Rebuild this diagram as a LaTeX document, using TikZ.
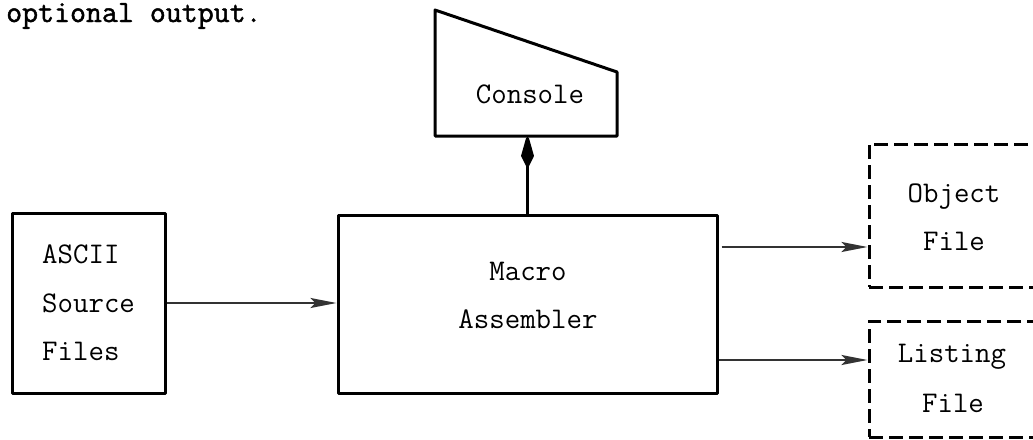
\documentclass[tikz,border=0pt]{standalone}
\usepackage{fontspec}
\setmonofont{Latin Modern Mono}
\newfontfamily\headtt{Latin Modern Mono}[FakeBold=1.5]
\usetikzlibrary{arrows.meta}
\begin{document}
\begin{tikzpicture}[x=1pt,y=-1pt,
  solidbox/.style={draw, line width=3pt, line join=round, inner sep=0pt},
  dashbox/.style={draw, line width=3pt, dash pattern=on 14pt off 6pt, inner sep=0pt},
  txt/.style={font=\fontsize{30}{36}\selectfont\ttfamily, inner sep=0pt, anchor=base},
  flow/.style={draw=black!80, line width=2pt, -{Stealth[length=26pt,width=10pt,inset=5pt]}},
  link/.style={line width=3pt, -{Kite[length=36pt,width=13pt,inset=13pt,round]}}]
\useasboundingbox (0,0) rectangle (1033,439);
\clip (0,0) rectangle (1033,439);

% heading line
\node[inner sep=0pt, anchor=base west, font=\fontsize{31}{36}\selectfont\headtt] (head) at (6,22) {optional output.};

% ASCII source files
\node[solidbox, minimum width=153pt, minimum height=180pt] (ascii) at (88.5,303) {};
\node[txt, anchor=base west] (a1) at (42,263) {ASCII};
\node[txt, anchor=base west] (a2) at (42,312) {Source};
\node[txt, anchor=base west] (a3) at (42,360) {Files};

% Macro assembler
\node[solidbox, minimum width=379pt, minimum height=178pt] (macro) at (527.5,304) {};
\node[txt] (m1) at (528,280) {Macro};
\node[txt] (m2) at (528,328) {Assembler};

% Console
\coordinate (c1) at (435,10);
\coordinate (c2) at (617,72);
\coordinate (c3) at (617,136);
\coordinate (c4) at (435,136);
\draw[line width=3pt, line join=round] (c1) -- (c2) -- (c3) -- (c4) -- cycle;
\node[txt] (console) at (530,103) {Console};

% Object file
\node[dashbox, minimum width=168pt, minimum height=143pt] (obj) at (953,215.5) {};
\node[txt] (o1) at (954,202) {Object};
\node[txt] (o2) at (954,250) {File};

% Listing file
\node[dashbox, minimum width=168pt, minimum height=116pt] (lst) at (953,379) {};
\node[txt] (l1) at (952,362) {Listing};
\node[txt] (l2) at (953,412) {File};

% connectors
\coordinate (objY) at (0,247);
\coordinate (lstY) at (0,360);
\draw[flow] (ascii.east) -- (ascii.east -| macro.west);
\draw[flow] ([xshift=3pt]macro.east |- objY) -- (obj.west |- objY);
\draw[flow] (macro.east |- lstY) -- (lst.west |- lstY);
\draw[link] (macro.north) -- ([yshift=-1pt]macro.north |- c4);
\end{tikzpicture}
\end{document}
